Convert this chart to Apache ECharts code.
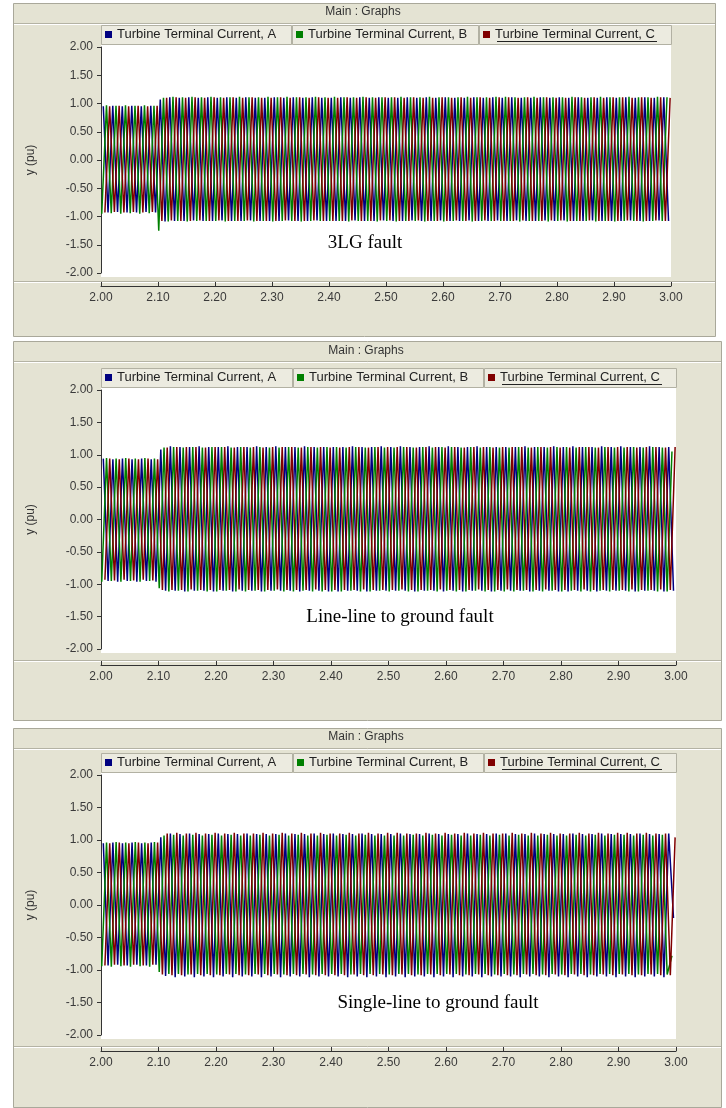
<!DOCTYPE html>
<html><head><meta charset="utf-8">
<script src="https://cdn.jsdelivr.net/npm/echarts@6/dist/echarts.min.js"></script>
<style>html,body{margin:0;padding:0;background:#fff;}#c{width:726px;height:1108px;}</style>
</head><body><div id="c"></div>
<script>
// ---------------- DATA ----------------
const panelTitle = 'Main : Graphs';
const seriesNames = ['Turbine Terminal Current, A', 'Turbine Terminal Current, B', 'Turbine Terminal Current, C'];
const faultLabels = ['3LG fault', 'Line-line to ground fault', 'Single-line to ground fault'];
const yAxisName = 'y (pu)';
const xRange = [2.0, 3.0];
const xStep = 0.1;
const yRange = [-2.0, 2.0];
const yStep = 0.5;
// sampling grid of the read extremes (one per half cycle, 60 Hz)
const startTime = 2.0;
const halfCycle = 1 / 120;
const phaseOffset = [0.0040, 0.0013, 0.0068];

// Panel 1 : 3LG fault (successive peak/trough values per half cycle)
const curA1 = [
0.95,-0.93,0.96,-0.92,0.95,-0.93,0.96,-0.93,0.95,-0.92,0.96,-0.93,
1.07,-1.09,1.11,-1.08,1.10,-1.08,1.11,-1.07,1.10,-1.08,1.11,-1.08,
1.10,-1.07,1.11,-1.08,1.10,-1.08,1.11,-1.07,1.10,-1.08,1.10,-1.08,
1.11,-1.08,1.10,-1.07,1.11,-1.08,1.10,-1.08,1.11,-1.07,1.10,-1.08,
1.10,-1.08,1.11,-1.08,1.10,-1.07,1.11,-1.08,1.10,-1.08,1.11,-1.07,
1.10,-1.08,1.10,-1.08,1.11,-1.07,1.10,-1.08,1.11,-1.08,1.10,-1.07,
1.11,-1.08,1.10,-1.08,1.10,-1.07,1.11,-1.08,1.10,-1.08,1.11,-1.07,
1.10,-1.08,1.11,-1.07,1.10,-1.08,1.10,-1.08,1.11,-1.07,1.10,-1.08,
1.11,-1.07,1.10,-1.08,1.11,-1.08,1.10,-1.07,1.10,-1.08,1.11,-1.08,
1.10,-1.08,1.11,-1.07,1.10,-1.08,1.11,-1.08,1.10,-1.07,1.11,-1.08];
const curB1 = [
-0.95,0.97,-0.94,0.96,-0.95,0.97,-0.94,0.96,-0.95,0.97,-0.94,0.96,
-1.25,1.10,-1.09,1.12,-1.08,1.11,-1.09,1.12,-1.08,1.11,-1.08,1.12,
-1.08,1.11,-1.09,1.11,-1.08,1.12,-1.08,1.11,-1.09,1.11,-1.08,1.12,
-1.09,1.11,-1.08,1.12,-1.08,1.11,-1.09,1.11,-1.08,1.12,-1.08,1.11,
-1.08,1.12,-1.08,1.11,-1.09,1.11,-1.08,1.12,-1.08,1.11,-1.09,1.11,
-1.08,1.11,-1.09,1.12,-1.08,1.11,-1.08,1.11,-1.09,1.12,-1.08,1.11,
-1.09,1.11,-1.08,1.11,-1.08,1.12,-1.09,1.11,-1.08,1.11,-1.08,1.12,
-1.08,1.12,-1.08,1.11,-1.09,1.11,-1.08,1.12,-1.08,1.11,-1.09,1.11,
-1.08,1.11,-1.09,1.12,-1.08,1.11,-1.08,1.11,-1.09,1.12,-1.08,1.11,
-1.09,1.11,-1.08,1.12,-1.08,1.11,-1.09,1.11,-1.08,1.12,-1.08,1.11];
const curC1 = [
-0.93,0.95,-0.92,0.96,-0.93,0.95,-0.92,0.96,-0.93,0.95,-0.92,0.96,
-1.08,1.10,-1.07,1.11,-1.08,1.10,-1.08,1.11,-1.07,1.10,-1.08,1.11,
-1.07,1.10,-1.08,1.11,-1.08,1.10,-1.07,1.11,-1.08,1.10,-1.08,1.10,
-1.08,1.11,-1.07,1.10,-1.08,1.11,-1.08,1.10,-1.07,1.11,-1.08,1.10,
-1.08,1.10,-1.08,1.11,-1.07,1.10,-1.08,1.11,-1.08,1.10,-1.07,1.11,
-1.07,1.11,-1.08,1.10,-1.08,1.11,-1.07,1.10,-1.08,1.10,-1.08,1.11,
-1.08,1.10,-1.07,1.11,-1.08,1.10,-1.08,1.11,-1.07,1.10,-1.08,1.11,
-1.08,1.11,-1.08,1.10,-1.07,1.11,-1.08,1.10,-1.08,1.11,-1.07,1.10,
-1.07,1.10,-1.08,1.11,-1.08,1.10,-1.07,1.11,-1.08,1.10,-1.08,1.11,
-1.08,1.11,-1.07,1.10,-1.08,1.11,-1.08,1.10,-1.07,1.11,-1.08,1.10];

// Panel 2 : line-line to ground fault
const curA2 = [
0.94,-0.95,0.93,-0.96,0.94,-0.95,0.93,-0.96,0.94,-0.95,0.93,-0.96,
1.08,-1.10,1.13,-1.10,1.12,-1.11,1.12,-1.10,1.13,-1.10,1.12,-1.11,
1.12,-1.10,1.13,-1.11,1.12,-1.10,1.12,-1.10,1.13,-1.11,1.12,-1.10,
1.13,-1.10,1.12,-1.10,1.12,-1.11,1.13,-1.10,1.12,-1.10,1.12,-1.11,
1.12,-1.11,1.12,-1.10,1.13,-1.10,1.12,-1.11,1.12,-1.10,1.13,-1.10,
1.12,-1.10,1.13,-1.10,1.12,-1.11,1.12,-1.10,1.13,-1.10,1.12,-1.11,
1.13,-1.10,1.12,-1.11,1.12,-1.10,1.13,-1.10,1.12,-1.11,1.12,-1.10,
1.12,-1.10,1.12,-1.10,1.13,-1.11,1.12,-1.10,1.12,-1.10,1.13,-1.11,
1.12,-1.11,1.13,-1.10,1.12,-1.10,1.12,-1.11,1.13,-1.10,1.12,-1.10,
1.13,-1.10,1.12,-1.11,1.12,-1.10,1.13,-1.10,1.12,-1.11,1.12,-1.10];
const curB2 = [
-0.96,0.95,-0.95,0.94,-0.96,0.95,-0.95,0.94,-0.96,0.95,-0.95,0.94,
-1.06,1.11,-1.11,1.12,-1.10,1.11,-1.11,1.12,-1.10,1.11,-1.11,1.12,
-1.11,1.12,-1.10,1.11,-1.11,1.12,-1.11,1.11,-1.10,1.12,-1.11,1.11,
-1.10,1.11,-1.11,1.12,-1.11,1.11,-1.10,1.12,-1.11,1.11,-1.11,1.12,
-1.11,1.12,-1.11,1.11,-1.10,1.12,-1.11,1.11,-1.11,1.12,-1.10,1.11,
-1.11,1.11,-1.10,1.12,-1.11,1.11,-1.11,1.12,-1.10,1.11,-1.11,1.12,
-1.10,1.12,-1.11,1.11,-1.11,1.12,-1.10,1.11,-1.11,1.12,-1.11,1.11,
-1.11,1.11,-1.11,1.12,-1.10,1.11,-1.11,1.12,-1.11,1.11,-1.10,1.12,
-1.11,1.12,-1.10,1.11,-1.11,1.12,-1.11,1.11,-1.10,1.12,-1.11,1.11,
-1.10,1.11,-1.11,1.12,-1.11,1.11,-1.10,1.12,-1.11,1.11,-1.11,1.05];
const curC2 = [
-0.93,0.94,-0.94,0.93,-0.93,0.94,-0.94,0.93,-0.93,0.94,-0.94,0.93,
-1.09,1.11,-1.09,1.12,-1.09,1.12,-1.08,1.12,-1.09,1.11,-1.09,1.12,
-1.09,1.12,-1.09,1.11,-1.08,1.12,-1.09,1.12,-1.09,1.11,-1.09,1.12,
-1.08,1.12,-1.09,1.12,-1.09,1.11,-1.09,1.12,-1.08,1.12,-1.09,1.11,
-1.09,1.11,-1.09,1.12,-1.09,1.12,-1.08,1.11,-1.09,1.12,-1.09,1.12,
-1.09,1.12,-1.08,1.12,-1.09,1.11,-1.09,1.12,-1.09,1.12,-1.08,1.11,
-1.09,1.12,-1.09,1.11,-1.09,1.12,-1.08,1.12,-1.09,1.11,-1.09,1.12,
-1.08,1.12,-1.09,1.12,-1.09,1.11,-1.09,1.12,-1.08,1.12,-1.09,1.11,
-1.09,1.11,-1.09,1.12,-1.08,1.12,-1.09,1.11,-1.09,1.12,-1.09,1.12,
-1.09,1.12,-1.08,1.11,-1.09,1.12,-1.09,1.12,-1.08,1.11,-1.09,1.12];

// Panel 3 : single-line to ground fault
const curA3 = [
0.95,-0.93,0.96,-0.92,0.95,-0.93,0.96,-0.92,0.95,-0.93,0.96,-0.92,
1.04,-1.09,1.10,-1.11,1.09,-1.10,1.10,-1.11,1.09,-1.10,1.09,-1.11,
1.10,-1.10,1.09,-1.11,1.09,-1.10,1.10,-1.10,1.09,-1.11,1.09,-1.10,
1.09,-1.11,1.10,-1.10,1.09,-1.10,1.09,-1.11,1.10,-1.10,1.09,-1.10,
1.10,-1.10,1.09,-1.11,1.09,-1.10,1.10,-1.11,1.09,-1.10,1.09,-1.11,
1.09,-1.10,1.10,-1.11,1.09,-1.10,1.09,-1.10,1.10,-1.11,1.09,-1.10,
1.09,-1.11,1.09,-1.10,1.10,-1.10,1.09,-1.11,1.09,-1.10,1.10,-1.10,
1.10,-1.10,1.09,-1.11,1.09,-1.10,1.10,-1.10,1.09,-1.11,1.09,-1.10,
1.09,-1.11,1.10,-1.10,1.09,-1.11,1.09,-1.10,1.10,-1.10,1.09,-1.11,
1.09,-1.10,1.09,-1.11,1.10,-1.10,1.09,-1.10,1.09,-1.11,1.10,-0.20];
const curB3 = [
-0.94,0.96,-0.95,0.97,-0.94,0.96,-0.95,0.97,-0.94,0.96,-0.95,0.97,
-1.03,1.07,-1.06,1.08,-1.06,1.07,-1.07,1.08,-1.06,1.07,-1.06,1.08,
-1.07,1.07,-1.06,1.08,-1.06,1.07,-1.07,1.07,-1.06,1.08,-1.06,1.07,
-1.06,1.08,-1.07,1.07,-1.06,1.08,-1.06,1.07,-1.07,1.07,-1.06,1.08,
-1.06,1.07,-1.06,1.08,-1.07,1.07,-1.06,1.08,-1.06,1.07,-1.06,1.07,
-1.07,1.07,-1.06,1.07,-1.06,1.08,-1.07,1.07,-1.06,1.08,-1.06,1.07,
-1.06,1.08,-1.06,1.07,-1.07,1.07,-1.06,1.08,-1.06,1.07,-1.07,1.08,
-1.06,1.07,-1.07,1.08,-1.06,1.07,-1.06,1.07,-1.07,1.08,-1.06,1.07,
-1.07,1.07,-1.06,1.08,-1.06,1.07,-1.07,1.08,-1.06,1.07,-1.06,1.08,
-1.06,1.08,-1.06,1.07,-1.07,1.08,-1.06,1.07,-1.06,1.08,-1.07,-0.78];
const curC3 = [
-0.93,0.95,-0.92,0.96,-0.93,0.95,-0.92,0.96,-0.93,0.95,-0.92,0.96,
-1.07,1.10,-1.08,1.11,-1.08,1.10,-1.07,1.11,-1.08,1.10,-1.08,1.11,
-1.08,1.10,-1.07,1.11,-1.08,1.10,-1.08,1.10,-1.07,1.11,-1.08,1.10,
-1.07,1.11,-1.08,1.10,-1.08,1.11,-1.07,1.10,-1.08,1.11,-1.08,1.10,
-1.08,1.10,-1.08,1.11,-1.07,1.10,-1.08,1.11,-1.08,1.10,-1.07,1.11,
-1.08,1.11,-1.07,1.10,-1.08,1.10,-1.08,1.11,-1.07,1.10,-1.08,1.11,
-1.07,1.10,-1.08,1.11,-1.08,1.10,-1.07,1.11,-1.08,1.10,-1.08,1.10,
-1.08,1.11,-1.08,1.10,-1.07,1.11,-1.08,1.10,-1.08,1.11,-1.07,1.10,
-1.08,1.10,-1.07,1.11,-1.08,1.10,-1.08,1.11,-1.07,1.10,-1.08,1.11,
-1.07,1.11,-1.08,1.10,-1.08,1.11,-1.07,1.10,-1.08,1.10,-1.08,1.04];

const panelData = [[curA1, curB1, curC1], [curA2, curB2, curC2], [curA3, curB3, curC3]];

// ---------------- LAYOUT / STYLE ----------------
const colors = ['#000080', '#008000', '#800000'];
const uiFont = 'Liberation Sans, Arial, sans-serif';
const layout = [
  {top: 3, bottom: 336, right: 715, plotR: 671, yTop: 47, yBot: 273, sep: 281, axisY: 286, titleX: 363, titleY: 13, legTop: 25, boxes: [101, 292, 479, 672], lab: [365, 243]},
  {top: 341, bottom: 720, right: 721, plotR: 676, yTop: 390, yBot: 649, sep: 660, axisY: 665, titleX: 366, titleY: 352, legTop: 368, boxes: [101, 293, 484, 677], lab: [400, 617]},
  {top: 728, bottom: 1107, right: 721, plotR: 676, yTop: 775, yBot: 1035, sep: 1046, axisY: 1051, titleX: 366, titleY: 738, legTop: 753, boxes: [101, 293, 484, 677], lab: [438, 1003]}
];

const grids = [], xAxes = [], yAxes = [], series = [], legends = [], titles = [], graphics = [];
layout.forEach((p, i) => {
  // panel frame
  graphics.push({type: 'rect', z: -20, shape: {x: 13.5, y: p.top + 0.5, width: p.right - 13, height: p.bottom - p.top}, style: {fill: '#E4E3D3', stroke: '#A9A89A', lineWidth: 1}});
  graphics.push({type: 'line', z: -19, shape: {x1: 14, y1: p.top + 20.5, x2: p.right, y2: p.top + 20.5}, style: {stroke: '#B4B3A4', lineWidth: 1}});
  graphics.push({type: 'line', z: -19, shape: {x1: 14, y1: p.top + 21.5, x2: p.right, y2: p.top + 21.5}, style: {stroke: '#FFFFFF', lineWidth: 1}});
  // legend boxes
  for (let k = 0; k < 3; k++) {
    graphics.push({type: 'rect', z: -18, shape: {x: p.boxes[k] + 0.5, y: p.legTop + 0.5, width: p.boxes[k + 1] - p.boxes[k] - 1, height: 19}, style: {fill: '#ECEBE0', stroke: '#B2B1A3', lineWidth: 1}});
  }
  // white plot background
  graphics.push({type: 'rect', z: -17, shape: {x: 101, y: p.legTop + 20, width: p.plotR - 101, height: p.yBot - p.legTop - 16}, style: {fill: '#FFFFFF'}});
  // separator between plot and time axis
  graphics.push({type: 'line', z: -16, shape: {x1: 14, y1: p.sep + 0.5, x2: p.right, y2: p.sep + 0.5}, style: {stroke: '#B4B3A4', lineWidth: 1}});
  graphics.push({type: 'line', z: -16, shape: {x1: 14, y1: p.sep + 1.5, x2: p.right, y2: p.sep + 1.5}, style: {stroke: '#FFFFFF', lineWidth: 1}});
  // underline of the third legend entry
  graphics.push({type: 'line', z: 50, shape: {x1: p.boxes[2] + 18, y1: p.legTop + 16.5, x2: p.boxes[2] + 178, y2: p.legTop + 16.5}, style: {stroke: '#222', lineWidth: 1}});
  // fault annotation
  graphics.push({type: 'text', z: 100, x: p.lab[0], y: p.lab[1], style: {text: faultLabels[i], fill: '#000', font: '19px "Liberation Serif", "Times New Roman", serif', textAlign: 'center', textVerticalAlign: 'middle'}});

  titles.push({text: panelTitle, left: p.titleX, top: p.titleY - 7, textAlign: 'center', padding: 0,
    textStyle: {fontSize: 12, fontWeight: 'normal', color: '#333', fontFamily: uiFont}});

  grids.push({left: 101, top: p.yTop, width: p.plotR - 101, height: p.yBot - p.yTop, show: false});
  xAxes.push({gridIndex: i, type: 'value', min: xRange[0], max: xRange[1], interval: xStep, position: 'bottom', offset: p.axisY - p.yBot,
    axisLine: {show: true, onZero: false, lineStyle: {color: '#333', width: 1}}, axisTick: {show: true, inside: true, length: 4, lineStyle: {color: '#333'}},
    axisLabel: {margin: 6, fontSize: 12, color: '#3a3a3a', fontFamily: uiFont, formatter: v => v.toFixed(2)}, splitLine: {show: false}});
  yAxes.push({gridIndex: i, type: 'value', min: yRange[0], max: yRange[1], interval: yStep, name: yAxisName, nameLocation: 'middle', nameGap: 64, nameRotate: 90,
    nameTextStyle: {fontSize: 12, color: '#333', fontFamily: uiFont},
    axisLine: {show: true, onZero: false, lineStyle: {color: '#333', width: 1}}, axisTick: {show: true, inside: false, length: 4, lineStyle: {color: '#333'}},
    axisLabel: {margin: 8, fontSize: 12, color: '#3a3a3a', fontFamily: uiFont, formatter: v => v.toFixed(2)}, splitLine: {show: false}});

  panelData[i].forEach((vals, k) => {
    series.push({
      name: seriesNames[k], type: 'line', xAxisIndex: i, yAxisIndex: i, showSymbol: false, symbol: 'none', clip: true,
      color: colors[k], lineStyle: {width: 1.5, color: colors[k]}, animation: false, silent: true,
      data: vals.map((v, j) => [startTime + phaseOffset[k] + j * halfCycle, v])
    });
    legends.push({data: [seriesNames[k]], left: p.boxes[k] + 4, top: p.legTop + 3, padding: 0, icon: 'rect', itemWidth: 7, itemHeight: 7, itemGap: 5,
      selectedMode: false, textStyle: {fontSize: 13, color: '#222', fontFamily: uiFont}});
  });
});

const chart = echarts.init(document.getElementById('c'), null, {renderer: 'canvas'});
chart.setOption({
  backgroundColor: '#FFFFFF', animation: false,
  title: titles, grid: grids, xAxis: xAxes, yAxis: yAxes, legend: legends, series: series, graphic: graphics
});
</script></body></html>
